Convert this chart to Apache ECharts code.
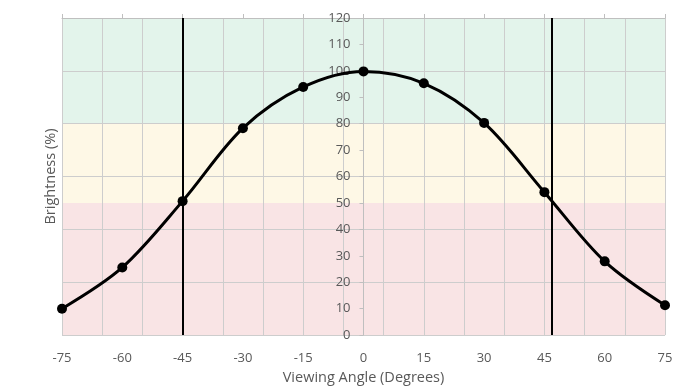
<!DOCTYPE html>
<html>
<head>
<meta charset="utf-8">
<script src="https://cdn.jsdelivr.net/npm/echarts@6/dist/echarts.min.js"></script>
<style>html,body{margin:0;padding:0;background:#fff;}#c{width:690px;height:390px;}</style>
</head>
<body>
<div id="c"></div>
<script>
// Data
const angles = [-75, -60, -45, -30, -15, 0, 15, 30, 45, 60, 75];
const brightness = [10, 25.6, 50.7, 78.3, 93.9, 99.8, 95.3, 80.3, 54.1, 27.9, 11.3];
const cutoffAngles = [-45, 46.8];
const bands = [
  { from: 0, to: 50, color: '#f9e4e5' },
  { from: 50, to: 80, color: '#fef8e6' },
  { from: 80, to: 120, color: '#e3f4eb' }
];
const xTitle = 'Viewing Angle (Degrees)';
const yTitle = 'Brightness (%)';

const W = 690, H = 390;
const G = { left: 62, right: 25, top: 18, bottom: 54 };
const xMin = -75, xMax = 75;
// shift the value axis so it sits at x = 0 of the horizontal scale
const yAxisShift = -(W - G.left - G.right) * (0 - xMin) / (xMax - xMin);

const font = "'Open Sans', 'Liberation Sans', sans-serif";
const txt = '#595959';
const gridCol = '#cdcdcd';
const axisCol = '#bfbfbf';

const chart = echarts.init(document.getElementById('c'), null, { renderer: 'canvas' });
chart.setOption({
  animation: false,
  backgroundColor: '#ffffff',
  grid: { left: G.left, right: G.right, top: G.top, bottom: G.bottom, containLabel: false },
  xAxis: [
    { // labels axis (data)
      type: 'value', position: 'bottom', min: xMin, max: xMax, interval: 15, z: 1.5,
      name: xTitle, nameLocation: 'middle', nameGap: 33,
      nameTextStyle: { color: txt, fontSize: 14.5, fontFamily: font },
      axisLine: { show: false, onZero: false },
      axisTick: { show: false },
      axisLabel: { color: txt, fontSize: 13, fontFamily: font, margin: 17 },
      splitLine: { show: false }
    },
    { // top axis line with ticks
      type: 'value', position: 'top', min: xMin, max: xMax, interval: 15, z: 1.5,
      axisLine: { show: true, onZero: false, lineStyle: { color: axisCol, width: 1 } },
      axisTick: { show: true, length: 4, lineStyle: { color: axisCol } },
      axisLabel: { show: false },
      splitLine: { show: false }
    },
    { // vertical gridlines every 10 degrees (offset scale 0..150)
      type: 'value', position: 'bottom', min: 0, max: xMax - xMin, interval: 10, z: 1.5,
      axisLine: { show: false, onZero: false },
      axisTick: { show: false },
      axisLabel: { show: false },
      splitLine: { show: true, lineStyle: { color: gridCol, width: 1 } }
    }
  ],
  yAxis: [
    { // value axis at x = 0
      type: 'value', position: 'left', min: 0, max: 120, interval: 10, z: 1.6,
      offset: yAxisShift,
      axisLine: { show: true, onZero: false, lineStyle: { color: axisCol, width: 1 } },
      axisTick: { show: true, length: 4, lineStyle: { color: axisCol } },
      axisLabel: { color: txt, fontSize: 13, fontFamily: font, margin: 13 },
      splitLine: { show: false }
    },
    { // horizontal gridlines every 20 + title
      type: 'value', position: 'left', min: 0, max: 120, interval: 20, z: 1.5,
      name: yTitle, nameLocation: 'middle', nameGap: 4, nameRotate: 90,
      nameTextStyle: { color: txt, fontSize: 14.5, fontFamily: font },
      axisLine: { show: false, onZero: false },
      axisTick: { show: false },
      axisLabel: { show: false },
      splitLine: { show: true, lineStyle: { color: gridCol, width: 1 } }
    }
  ],
  series: [
    {
      type: 'line', xAxisIndex: 0, yAxisIndex: 0, z: -5, data: [],
      silent: true,
      markArea: {
        silent: true, z: -1,
        data: bands.map(b => [
          { yAxis: b.from, itemStyle: { color: b.color } },
          { yAxis: b.to }
        ])
      }
    },
    {
      type: 'line', xAxisIndex: 0, yAxisIndex: 0, z: 5,
      data: angles.map((a, i) => [a, brightness[i]]),
      smooth: 0.33,
      symbol: 'circle', symbolSize: 10,
      lineStyle: { color: '#000', width: 3 },
      itemStyle: { color: '#000' },
      markLine: {
        silent: true, symbol: 'none', z: 4,
        label: { show: false },
        lineStyle: { color: '#000', width: 2, type: 'solid' },
        data: cutoffAngles.map(a => ({ xAxis: a }))
      }
    }
  ]
});
</script>
</body>
</html>
